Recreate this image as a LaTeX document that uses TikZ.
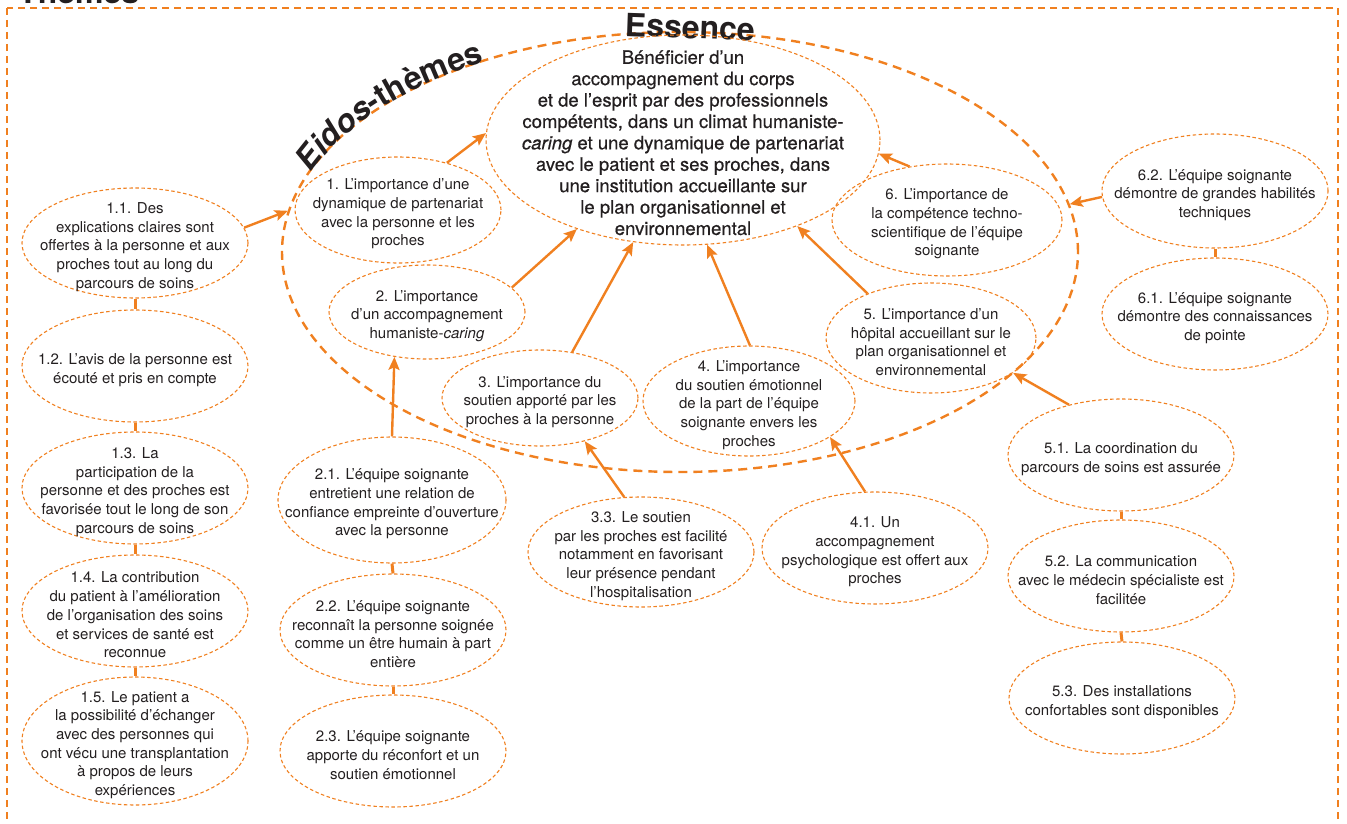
\documentclass[tikz,border=0pt]{standalone}
\usepackage{fontspec}
\setmainfont{TeX Gyre Heros}
\newfontfamily\essfont[FakeBold=0.6]{TeX Gyre Heros}
\usetikzlibrary{shapes.geometric,arrows.meta,decorations.text}
\definecolor{org}{RGB}{240,128,32}
\definecolor{ink}{RGB}{35,31,32}
\newcommand\hdfont{\fontsize{32}{32}\selectfont\bfseries}
% taller first line, so that the text block sits a little lower in its ellipse
\newcommand\lift{\rule{0pt}{19pt}}

\begin{document}
\begin{tikzpicture}[x=1pt,y=-1pt,
  sub/.style={ellipse, draw=org, line width=1.1pt, dash pattern=on 3.5pt off 2.5pt,
    inner sep=-40pt, align=center, text=ink, font=\fontsize{15}{18.7}\selectfont},
  core/.style={ellipse, draw=org, line width=1.1pt, dash pattern=on 3.5pt off 2.5pt,
    inner sep=-40pt, align=center, text=ink, font=\essfont\fontsize{18.5}{21.4}\selectfont},
  eidos/.style={ellipse, draw=org, line width=2.4pt, dash pattern=on 9pt off 6pt, inner sep=0pt},
  heading/.style={font=\hdfont, text=ink, inner sep=0pt},
  arr/.style={draw=org, line width=2.4pt, -{Stealth[length=13pt, width=11pt, inset=2.5pt]}},
  bar/.style={draw=org, line width=3pt}
]
\useasboundingbox (0,0) rectangle (1347,824);
\clip (0,0) rectangle (1347,824);

% outer frame and title
\draw[org, line width=2.4pt, dash pattern=on 7pt off 5pt] (7,8) rectangle (1338,900);
\node[heading, anchor=base west] (themes) at (18,4) {Thèmes};

% eidos ring and essence
\node[eidos, minimum width=796, minimum height=440] (eid) at (680,252) {};
\node[heading, rotate=-2] (essence) at (690,27) {Essence};
\begin{scope}[y=1pt]
  \path[decorate, decoration={text along path, text align=center, text color=ink,
      text={|\hdfont\itshape|Eidos|\hdfont|-thèmes}}]
    (680,-252) ++(174:396 and 218) arc[start angle=174, end angle=110, x radius=396, y radius=218];
\end{scope}

\node[core, minimum width=394, minimum height=210] (ess) at (683,140)
  {\lift Bénéficier d’un\\accompagnement du corps\\et de l’esprit par des professionnels\\compétents, dans un climat humaniste-\\\textit{caring} et une dynamique de partenariat\\avec le patient et ses proches, dans\\une institution accueillante sur\\le plan organisationnel et\\environnemental};

% eidos-themes
\node[sub, minimum width=206, minimum height=106] (n1) at (398,210)
  {\lift 1. L’importance d’une\\dynamique de partenariat\\avec la personne et les\\proches};
\node[sub, minimum width=196, minimum height=94] (n2) at (427,312)
  {\lift 2. L’importance\\d’un accompagnement\\humaniste-\textit{caring}};
\node[sub, minimum width=196, minimum height=96] (n3) at (540,398)
  {\lift 3. L’importance du\\soutien apporté par les\\proches à la personne};
\node[sub, minimum width=212, minimum height=110] (n4) at (749,401)
  {\lift 4. L’importance\\du soutien émotionnel\\de la part de l’équipe\\soignante envers les\\proches};
\node[sub, minimum width=210, minimum height=110] (n5) at (931,338)
  {\lift 5. L’importance d’un\\hôpital accueillant sur le\\plan organisationnel et\\environnemental};
\node[sub, minimum width=230, minimum height=112] (n6) at (947,220)
  {\lift 6. L’importance de\\la compétence techno-\\scientifique de l’équipe\\soignante};

% themes, column 1
\node[sub, minimum width=226, minimum height=110] (n11) at (135,243)
  {\lift 1.1. Des\\explications claires sont\\offertes à la personne et aux\\proches tout au long du\\parcours de soins};
\node[sub, minimum width=226, minimum height=112] (n12) at (135,366)
  {\lift 1.2. L’avis de la personne est\\écouté et pris en compte};
\node[sub, minimum width=226, minimum height=112] (n13) at (135,488)
  {\lift 1.3. La\\participation de la\\personne et des proches est\\favorisée tout le long de son\\parcours de soins};
\node[sub, minimum width=226, minimum height=112] (n14) at (135,611)
  {\lift 1.4. La contribution\\du patient à l’amélioration\\de l’organisation des soins\\et services de santé est\\reconnue};
\node[sub, minimum width=226, minimum height=128] (n15) at (135,741)
  {\lift 1.5. Le patient a\\la possibilité d’échanger\\avec des personnes qui\\ont vécu une transplantation\\à propos de leurs\\expériences};

% themes, column 2
\node[sub, minimum width=228, minimum height=126] (n21) at (392,500)
  {\lift 2.1. L’équipe soignante\\entretient une relation de\\confiance empreinte d’ouverture\\avec la personne};
\node[sub, minimum width=226, minimum height=112] (n22) at (393,630)
  {\lift 2.2. L’équipe soignante\\reconnaît la personne soignée\\comme un être humain à part\\entière};
\node[sub, minimum width=226, minimum height=112] (n23) at (393,751)
  {\lift 2.3. L’équipe soignante\\apporte du réconfort et un\\soutien émotionnel};

% themes 3.3 and 4.1
\node[sub, minimum width=226, minimum height=110] (n33) at (641,552)
  {\lift 3.3. Le soutien\\par les proches est facilité\\notamment en favorisant\\leur présence pendant\\l’hospitalisation};
\node[sub, minimum width=226, minimum height=112] (n41) at (875,548)
  {\lift 4.1. Un\\accompagnement\\psychologique est offert aux\\proches};

% themes, column 5
\node[sub, minimum width=226, minimum height=112] (n51) at (1121,455)
  {\lift 5.1. La coordination du\\parcours de soins est assurée};
\node[sub, minimum width=226, minimum height=112] (n52) at (1121,576)
  {\lift 5.2. La communication\\avec le médecin spécialiste est\\facilitée};
\node[sub, minimum width=226, minimum height=112] (n53) at (1122,698)
  {\lift 5.3. Des installations\\confortables sont disponibles};

% themes, column 6
\node[sub, minimum width=226, minimum height=114] (n62) at (1215,191)
  {\lift 6.2. L’équipe soignante\\démontre de grandes habilités\\techniques};
\node[sub, minimum width=226, minimum height=112] (n61) at (1215,314)
  {\lift 6.1. L’équipe soignante\\démontre des connaissances\\de pointe};

% links inside each column
\draw[bar] (n11.south) -- (n12.north);
\draw[bar] (n12.south) -- (n13.north);
\draw[bar] (n13.south) -- (n14.north);
\draw[bar] (n14.south) -- (n15.north);
\draw[bar] (n21.south) -- (n22.north);
\draw[bar] (n22.south) -- (n23.north);
\draw[bar] (n51.south) -- (n52.north);
\draw[bar] (n52.south) -- (n53.north);
\draw[bar] (n62.south) -- (n61.north);

% arrows towards the essence
\draw[arr] (n1.44) -- (ess.178);
\draw[arr] (n2.16) -- (ess.220);
\draw[arr] (n3.55) -- (ess.244);
\draw[arr] (n4.89) -- (ess.283);
\draw[arr] (n5.145) -- (ess.323);
\draw[arr] (n6.125) -- (ess.356);

% arrows from themes
\draw[arr] (n11.8) -- (eid.174);
\draw[arr] (n62.183) -- (eid.7);
\draw[arr] (n21.north) -- (n2.234);
\draw[arr] (n33.107) -- (n3.316);
\draw[arr] (n41.100) -- (n4.336);
\draw[arr] (n51.136) -- (n5.337);
\end{tikzpicture}
\end{document}
